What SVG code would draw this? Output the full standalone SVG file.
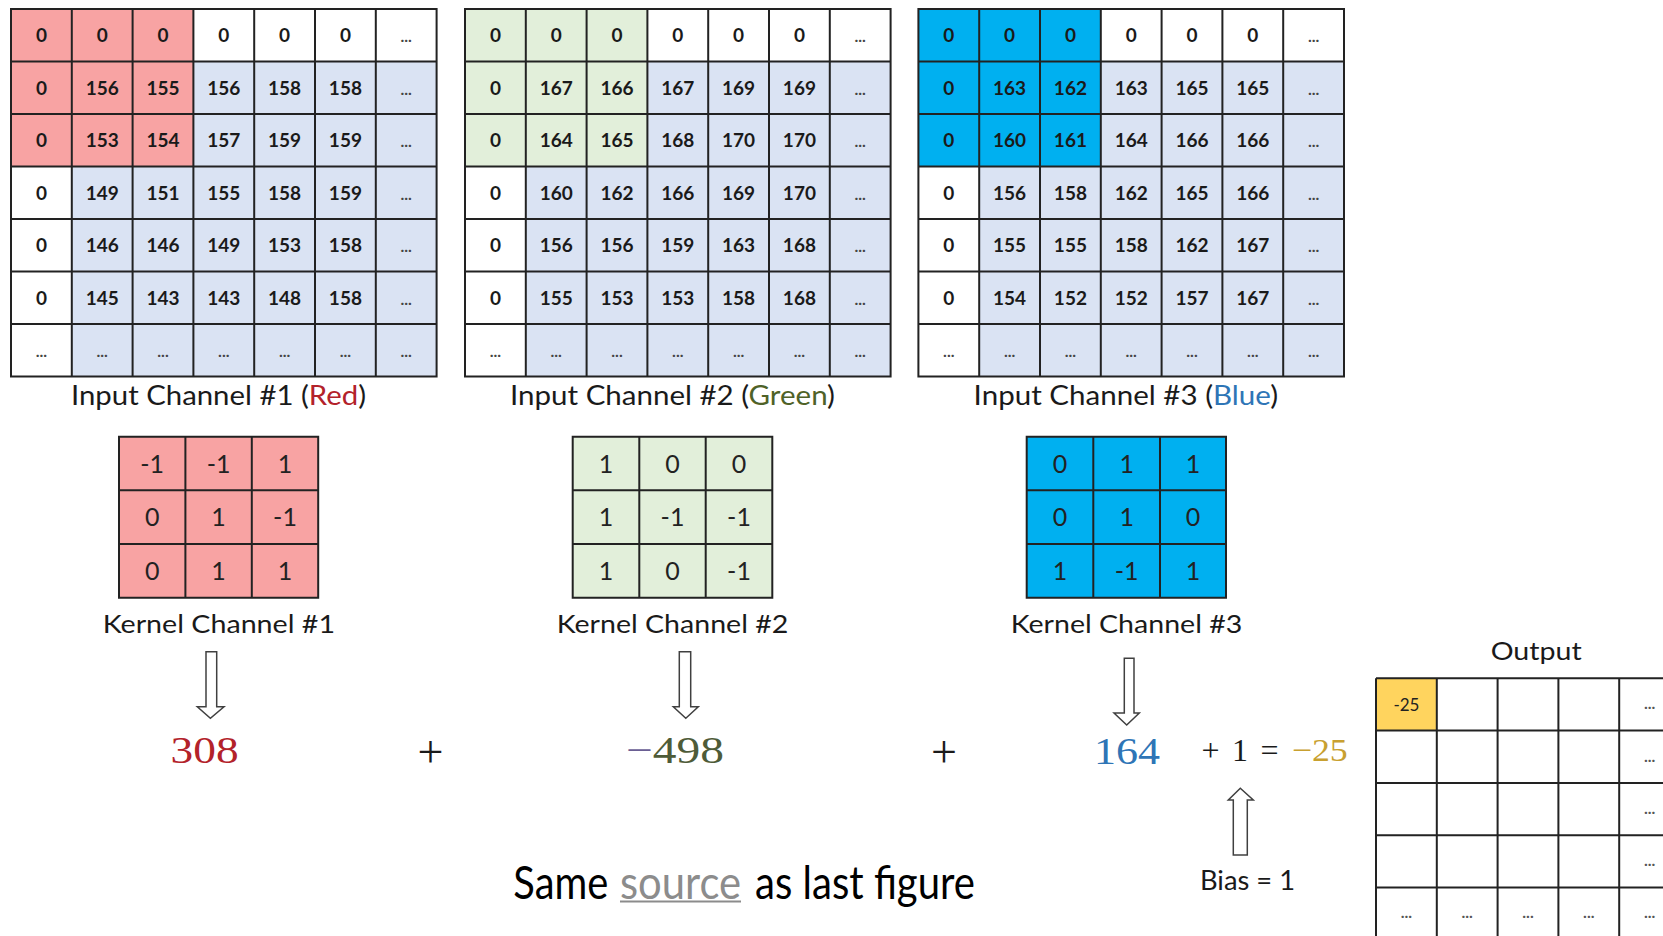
<svg xmlns="http://www.w3.org/2000/svg" width="1663" height="936" viewBox="0 0 1663 936">
<style>
.bg{fill:#ffffff}
.lb{fill:#DAE3F3}
.wh{fill:#ffffff}
.rd{fill:#F8A3A3}
.gr{fill:#E2EFDA}
.bl{fill:#00B0F0}
.yl{fill:#FFD45E}
.grid{fill:none;stroke:#222222;stroke-width:2}
.num{font-family:Lato,"Liberation Sans",sans-serif;font-weight:bold;font-size:19px;fill:#1a1a1a;text-anchor:middle}
.dots{font-family:Lato,"Liberation Sans",sans-serif;font-weight:bold;font-size:16px;fill:#444444;text-anchor:middle}
.kn{font-family:Lato,"Liberation Sans",sans-serif;font-size:25px;fill:#222222;text-anchor:middle}
.lbl{font-family:Lato,"Liberation Sans",sans-serif;font-size:27px;fill:#1a1a1a}
.klbl{font-family:Lato,"Liberation Sans",sans-serif;font-size:25px;fill:#1a1a1a}
.eq{font-family:"Liberation Serif","DejaVu Serif",serif;font-size:38px}
.op{font-family:"Liberation Serif","DejaVu Serif",serif;fill:#1a1a1a;text-anchor:middle}
.gold{font-family:"Liberation Serif","DejaVu Serif",serif;font-size:32px;fill:#C8A030}
.arrow{fill:#ffffff;stroke:#404040;stroke-width:1.5;stroke-linejoin:miter}
.foot{font-family:Lato,"Liberation Sans",sans-serif;font-size:46px;fill:#000000}
.link{fill:#8C8C8C}
</style>
<rect class="bg" x="0" y="0" width="1663" height="936"/>

<!-- Input channel 1 -->
<g id="input-red" transform="translate(11,9)">
<rect class="lb" x="0" y="0" width="425.6" height="367.5"/>
<rect class="wh" x="0" y="0" width="425.6" height="52.5"/>
<rect class="wh" x="0" y="0" width="60.8" height="367.5"/>
<rect class="rd" x="0" y="0" width="182.4" height="157.5"/>
<path class="grid" d="M0 0H425.6V367.5H0Z M60.8 0V367.5 M121.6 0V367.5 M182.4 0V367.5 M243.2 0V367.5 M304 0V367.5 M364.8 0V367.5 M0 52.5H425.6 M0 105H425.6 M0 157.5H425.6 M0 210H425.6 M0 262.5H425.6 M0 315H425.6"/>
<g class="num">
<text x="30.4" y="33">0</text><text x="91.2" y="33">0</text><text x="152" y="33">0</text><text x="212.8" y="33">0</text><text x="273.6" y="33">0</text><text x="334.4" y="33">0</text>
<text x="30.4" y="85.5">0</text><text x="91.2" y="85.5">156</text><text x="152" y="85.5">155</text><text x="212.8" y="85.5">156</text><text x="273.6" y="85.5">158</text><text x="334.4" y="85.5">158</text>
<text x="30.4" y="138">0</text><text x="91.2" y="138">153</text><text x="152" y="138">154</text><text x="212.8" y="138">157</text><text x="273.6" y="138">159</text><text x="334.4" y="138">159</text>
<text x="30.4" y="190.5">0</text><text x="91.2" y="190.5">149</text><text x="152" y="190.5">151</text><text x="212.8" y="190.5">155</text><text x="273.6" y="190.5">158</text><text x="334.4" y="190.5">159</text>
<text x="30.4" y="243">0</text><text x="91.2" y="243">146</text><text x="152" y="243">146</text><text x="212.8" y="243">149</text><text x="273.6" y="243">153</text><text x="334.4" y="243">158</text>
<text x="30.4" y="295.5">0</text><text x="91.2" y="295.5">145</text><text x="152" y="295.5">143</text><text x="212.8" y="295.5">143</text><text x="273.6" y="295.5">148</text><text x="334.4" y="295.5">158</text>
</g>
<g class="dots">
<text x="395.2" y="33">...</text><text x="395.2" y="85.5">...</text><text x="395.2" y="138">...</text><text x="395.2" y="190.5">...</text><text x="395.2" y="243">...</text><text x="395.2" y="295.5">...</text>
<text x="30.4" y="348">...</text><text x="91.2" y="348">...</text><text x="152" y="348">...</text><text x="212.8" y="348">...</text><text x="273.6" y="348">...</text><text x="334.4" y="348">...</text><text x="395.2" y="348">...</text>
</g>
</g>
<g id="label-red"><text class="lbl" x="71" y="405" textLength="295" lengthAdjust="spacingAndGlyphs">Input Channel #1 (<tspan style="fill:#B3222A">Red</tspan>)</text></g>

<!-- Input channel 2 -->
<g id="input-green" transform="translate(465,9)">
<rect class="lb" x="0" y="0" width="425.6" height="367.5"/>
<rect class="wh" x="0" y="0" width="425.6" height="52.5"/>
<rect class="wh" x="0" y="0" width="60.8" height="367.5"/>
<rect class="gr" x="0" y="0" width="182.4" height="157.5"/>
<path class="grid" d="M0 0H425.6V367.5H0Z M60.8 0V367.5 M121.6 0V367.5 M182.4 0V367.5 M243.2 0V367.5 M304 0V367.5 M364.8 0V367.5 M0 52.5H425.6 M0 105H425.6 M0 157.5H425.6 M0 210H425.6 M0 262.5H425.6 M0 315H425.6"/>
<g class="num">
<text x="30.4" y="33">0</text><text x="91.2" y="33">0</text><text x="152" y="33">0</text><text x="212.8" y="33">0</text><text x="273.6" y="33">0</text><text x="334.4" y="33">0</text>
<text x="30.4" y="85.5">0</text><text x="91.2" y="85.5">167</text><text x="152" y="85.5">166</text><text x="212.8" y="85.5">167</text><text x="273.6" y="85.5">169</text><text x="334.4" y="85.5">169</text>
<text x="30.4" y="138">0</text><text x="91.2" y="138">164</text><text x="152" y="138">165</text><text x="212.8" y="138">168</text><text x="273.6" y="138">170</text><text x="334.4" y="138">170</text>
<text x="30.4" y="190.5">0</text><text x="91.2" y="190.5">160</text><text x="152" y="190.5">162</text><text x="212.8" y="190.5">166</text><text x="273.6" y="190.5">169</text><text x="334.4" y="190.5">170</text>
<text x="30.4" y="243">0</text><text x="91.2" y="243">156</text><text x="152" y="243">156</text><text x="212.8" y="243">159</text><text x="273.6" y="243">163</text><text x="334.4" y="243">168</text>
<text x="30.4" y="295.5">0</text><text x="91.2" y="295.5">155</text><text x="152" y="295.5">153</text><text x="212.8" y="295.5">153</text><text x="273.6" y="295.5">158</text><text x="334.4" y="295.5">168</text>
</g>
<g class="dots">
<text x="395.2" y="33">...</text><text x="395.2" y="85.5">...</text><text x="395.2" y="138">...</text><text x="395.2" y="190.5">...</text><text x="395.2" y="243">...</text><text x="395.2" y="295.5">...</text>
<text x="30.4" y="348">...</text><text x="91.2" y="348">...</text><text x="152" y="348">...</text><text x="212.8" y="348">...</text><text x="273.6" y="348">...</text><text x="334.4" y="348">...</text><text x="395.2" y="348">...</text>
</g>
</g>
<g id="label-green"><text class="lbl" x="510" y="405" textLength="325" lengthAdjust="spacingAndGlyphs">Input Channel #2 (<tspan style="fill:#4F6228">Green</tspan>)</text></g>

<!-- Input channel 3 -->
<g id="input-blue" transform="translate(918.4,9)">
<rect class="lb" x="0" y="0" width="425.6" height="367.5"/>
<rect class="wh" x="0" y="0" width="425.6" height="52.5"/>
<rect class="wh" x="0" y="0" width="60.8" height="367.5"/>
<rect class="bl" x="0" y="0" width="182.4" height="157.5"/>
<path class="grid" d="M0 0H425.6V367.5H0Z M60.8 0V367.5 M121.6 0V367.5 M182.4 0V367.5 M243.2 0V367.5 M304 0V367.5 M364.8 0V367.5 M0 52.5H425.6 M0 105H425.6 M0 157.5H425.6 M0 210H425.6 M0 262.5H425.6 M0 315H425.6"/>
<g class="num">
<text x="30.4" y="33">0</text><text x="91.2" y="33">0</text><text x="152" y="33">0</text><text x="212.8" y="33">0</text><text x="273.6" y="33">0</text><text x="334.4" y="33">0</text>
<text x="30.4" y="85.5">0</text><text x="91.2" y="85.5">163</text><text x="152" y="85.5">162</text><text x="212.8" y="85.5">163</text><text x="273.6" y="85.5">165</text><text x="334.4" y="85.5">165</text>
<text x="30.4" y="138">0</text><text x="91.2" y="138">160</text><text x="152" y="138">161</text><text x="212.8" y="138">164</text><text x="273.6" y="138">166</text><text x="334.4" y="138">166</text>
<text x="30.4" y="190.5">0</text><text x="91.2" y="190.5">156</text><text x="152" y="190.5">158</text><text x="212.8" y="190.5">162</text><text x="273.6" y="190.5">165</text><text x="334.4" y="190.5">166</text>
<text x="30.4" y="243">0</text><text x="91.2" y="243">155</text><text x="152" y="243">155</text><text x="212.8" y="243">158</text><text x="273.6" y="243">162</text><text x="334.4" y="243">167</text>
<text x="30.4" y="295.5">0</text><text x="91.2" y="295.5">154</text><text x="152" y="295.5">152</text><text x="212.8" y="295.5">152</text><text x="273.6" y="295.5">157</text><text x="334.4" y="295.5">167</text>
</g>
<g class="dots">
<text x="395.2" y="33">...</text><text x="395.2" y="85.5">...</text><text x="395.2" y="138">...</text><text x="395.2" y="190.5">...</text><text x="395.2" y="243">...</text><text x="395.2" y="295.5">...</text>
<text x="30.4" y="348">...</text><text x="91.2" y="348">...</text><text x="152" y="348">...</text><text x="212.8" y="348">...</text><text x="273.6" y="348">...</text><text x="334.4" y="348">...</text><text x="395.2" y="348">...</text>
</g>
</g>
<g id="label-blue"><text class="lbl" x="973.6" y="405" textLength="304.5" lengthAdjust="spacingAndGlyphs">Input Channel #3 (<tspan style="fill:#2E75B6">Blue</tspan>)</text></g>

<!-- Kernels -->
<g id="kernel-1" transform="translate(119,436.7)">
<rect class="rd" x="0" y="0" width="199.2" height="161"/>
<path class="grid" d="M0 0H199.2V161H0Z M66.4 0V161 M132.8 0V161 M0 53.67H199.2 M0 107.33H199.2"/>
<g class="kn">
<text x="33.2" y="36">-1</text><text x="99.6" y="36">-1</text><text x="166" y="36">1</text>
<text x="33.2" y="89.7">0</text><text x="99.6" y="89.7">1</text><text x="166" y="89.7">-1</text>
<text x="33.2" y="143.4">0</text><text x="99.6" y="143.4">1</text><text x="166" y="143.4">1</text>
</g>
<text class="klbl" x="-16.3" y="196.3" textLength="232.3" lengthAdjust="spacingAndGlyphs">Kernel Channel #1</text>
</g>

<g id="kernel-2" transform="translate(572.7,436.7)">
<rect class="gr" x="0" y="0" width="199.6" height="161"/>
<path class="grid" d="M0 0H199.6V161H0Z M66.6 0V161 M133 0V161 M0 53.67H199.6 M0 107.33H199.6"/>
<g class="kn">
<text x="33.3" y="36">1</text><text x="99.8" y="36">0</text><text x="166.3" y="36">0</text>
<text x="33.3" y="89.7">1</text><text x="99.8" y="89.7">-1</text><text x="166.3" y="89.7">-1</text>
<text x="33.3" y="143.4">1</text><text x="99.8" y="143.4">0</text><text x="166.3" y="143.4">-1</text>
</g>
<text class="klbl" x="-16" y="196.3" textLength="231.6" lengthAdjust="spacingAndGlyphs">Kernel Channel #2</text>
</g>

<g id="kernel-3" transform="translate(1026.7,436.7)">
<rect class="bl" x="0" y="0" width="199.3" height="161"/>
<path class="grid" d="M0 0H199.3V161H0Z M66.6 0V161 M133.3 0V161 M0 53.67H199.3 M0 107.33H199.3"/>
<g class="kn">
<text x="33.3" y="36">0</text><text x="100" y="36">1</text><text x="166.3" y="36">1</text>
<text x="33.3" y="89.7">0</text><text x="100" y="89.7">1</text><text x="166.3" y="89.7">0</text>
<text x="33.3" y="143.4">1</text><text x="100" y="143.4">-1</text><text x="166.3" y="143.4">1</text>
</g>
<text class="klbl" x="-16" y="196.3" textLength="231.6" lengthAdjust="spacingAndGlyphs">Kernel Channel #3</text>
</g>

<!-- Connectors -->
<g id="connectors">
<polygon class="arrow" points="206,651.7 216.7,651.7 216.7,706.7 224,706.7 210.4,718.3 197.3,706.7 206,706.7"/>
<polygon class="arrow" points="679.3,651.7 690.7,651.7 690.7,706.7 698.3,706.7 685.8,718.3 673.3,706.7 679.3,706.7"/>
<polygon class="arrow" points="1124.3,658.3 1134,658.3 1134,713 1139.3,713 1126.7,725 1114,713 1124.3,713"/>
<polygon class="arrow" points="1233.3,855 1247.3,855 1247.3,800 1253.3,800 1240.3,788.3 1228.3,800 1233.3,800"/>
</g>

<!-- Equation -->
<g id="equation">
<text class="eq" x="170.6" y="763" style="fill:#B3222A" textLength="68" lengthAdjust="spacingAndGlyphs">308</text>
<text class="op" x="430.5" y="767" font-size="46">+</text>
<text class="eq" x="626" y="763" textLength="98" lengthAdjust="spacingAndGlyphs"><tspan style="fill:#6A5E93">−</tspan><tspan style="fill:#4E5B38">498</tspan></text>
<text class="op" x="944" y="767" font-size="46">+</text>
<text class="eq" x="1094" y="764" style="fill:#2E75B6" textLength="66" lengthAdjust="spacingAndGlyphs">164</text>
<text class="op" x="1210.4" y="761" font-size="32">+</text>
<text class="op" x="1240" y="761" font-size="32">1</text>
<text class="op" x="1269.5" y="761" font-size="32">=</text>
<text class="gold" x="1291.7" y="761" textLength="56" lengthAdjust="spacingAndGlyphs">−25</text>
</g>

<g id="bias"><text class="lbl" x="1200" y="890" textLength="95" lengthAdjust="spacingAndGlyphs">Bias = 1</text></g>

<!-- Output -->
<g id="output">
<text class="klbl" x="1490.7" y="660" textLength="91" lengthAdjust="spacingAndGlyphs">Output</text>
<g transform="translate(1376,678.3)">
<rect class="yl" x="0" y="0" width="60.8" height="52.3"/>
<path class="grid" d="M0 0H300 M0 52.3H300 M0 104.6H300 M0 156.9H300 M0 209.2H300 M0 0V270 M60.8 0V270 M121.6 0V270 M182.4 0V270 M243.2 0V270"/>
<text x="30.4" y="32.4" style="font-family:Lato,'Liberation Sans',sans-serif;font-size:17px;fill:#222;text-anchor:middle">-25</text>
<g class="dots" style="fill:#555">
<text x="273.6" y="31">...</text><text x="273.6" y="83.3">...</text><text x="273.6" y="135.6">...</text><text x="273.6" y="187.9">...</text>
<text x="30.4" y="240">...</text><text x="91.2" y="240">...</text><text x="152" y="240">...</text><text x="212.8" y="240">...</text><text x="273.6" y="240">...</text>
</g>
</g>
</g>

<!-- Footer -->
<g id="footer">
<text class="foot" x="513.3" y="899" textLength="95" lengthAdjust="spacingAndGlyphs">Same</text>
<text class="foot link" x="620" y="899" textLength="121" lengthAdjust="spacingAndGlyphs">source</text>
<line x1="620" y1="901.5" x2="741" y2="901.5" stroke="#8C8C8C" stroke-width="2"/>
<text class="foot" x="755" y="899" textLength="220" lengthAdjust="spacingAndGlyphs">as last figure</text>
</g>
</svg>
